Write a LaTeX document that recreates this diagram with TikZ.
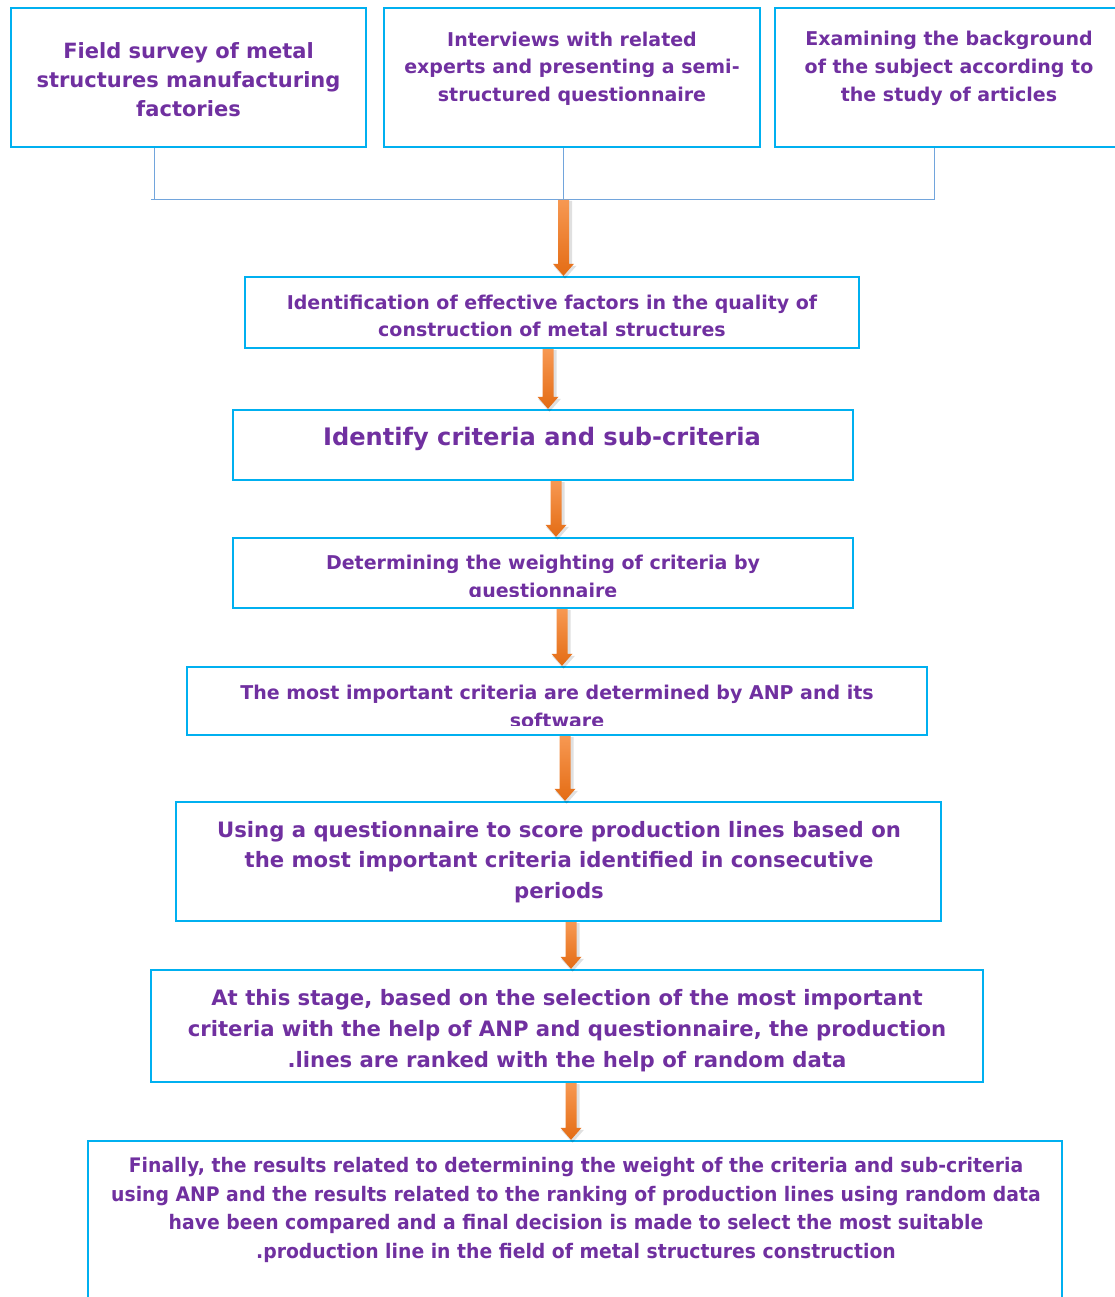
\documentclass[tikz,border=0pt]{standalone}
\usepackage{fontspec}
\setmainfont{DejaVu Sans}
\newfontfamily\condfont[FakeStretch=0.94]{DejaVu Sans}
\usetikzlibrary{calc}
\definecolor{txtpurple}{HTML}{7030A0}
\definecolor{boxblue}{HTML}{00B0F0}
\definecolor{linkblue}{HTML}{72A5DC}
\definecolor{arrtop}{HTML}{F79852}
\definecolor{arrbot}{HTML}{E46C14}
\tikzset{
  flowbox/.style={draw=boxblue, line width=2.4pt, fill=white, rectangle, inner sep=0pt},
  flowtext/.style={text=txtpurple, align=center, inner sep=0pt},
  linkline/.style={draw=linkblue, line width=1pt},
}
\newcommand\oarrow[2]{%
  \fill[black, opacity=0.12] let \p1=(#1), \p2=(#2) in
   ({\x1-5pt},{\y1-1pt}) -- ({\x1+8.5pt},{\y1-1pt}) -- ({\x1+8.5pt},{\y2+10pt}) -- ({\x1+13pt},{\y2+10pt}) -- ({\x1+1.5pt},{\y2-3pt}) -- ({\x1-10pt},{\y2+10pt}) -- ({\x1-5pt},{\y2+10pt}) -- cycle;
  \shade[top color=arrtop, bottom color=arrbot] let \p1=(#1), \p2=(#2) in
   ({\x1-5.5pt},{\y1}) -- ({\x1+5.5pt},{\y1}) -- ({\x1+5.5pt},{\y2+12pt}) -- ({\x1+10.5pt},{\y2+12pt}) -- ({\x1},{\y2}) -- ({\x1-10.5pt},{\y2+12pt}) -- ({\x1-5.5pt},{\y2+12pt}) -- cycle;
}
\begin{document}
\begin{tikzpicture}[x=1pt,y=-1pt]
\useasboundingbox (0,0) rectangle (1114,1297);
\fill[white] (0,0) rectangle (1114,1297);

% boxes
\node[flowbox, minimum width=355pt, minimum height=139pt] (b1) at (188.5,77.5) {};
\node[flowbox, minimum width=376pt, minimum height=139pt] (b2) at (572,77.5) {};
\node[flowbox, minimum width=350pt, minimum height=139pt] (b3) at (950,77.5) {};
\node[flowbox, minimum width=614pt, minimum height=71pt] (b4) at (552,312.5) {};
\node[flowbox, minimum width=620pt, minimum height=70pt] (b5) at (543,445) {};
\node[flowbox, minimum width=620pt, minimum height=70pt] (b6) at (543,573) {};
\node[flowbox, minimum width=740pt, minimum height=68pt] (b7) at (557,701) {};
\node[flowbox, minimum width=765pt, minimum height=119pt] (b8) at (558.5,861.5) {};
\node[flowbox, minimum width=832pt, minimum height=112pt] (b9) at (567,1026) {};
\node[flowbox, minimum width=974pt, minimum height=179pt] (b10) at (575,1230.5) {};

% texts
\node[flowtext, font=\fontsize{21}{29}\selectfont\bfseries] (t1) at (188.5,80)
  {Field survey of metal\\structures manufacturing\\factories};
\node[flowtext, font=\fontsize{19}{27.7}\selectfont\bfseries] (t2) at (572,68.5)
  {Interviews with related\\experts and presenting a semi-\\structured questionnaire};
\node[flowtext, font=\fontsize{19}{27.7}\selectfont\bfseries] (t3) at (949,68.5)
  {Examining the background\\of the subject according to\\the study of articles};
\node[flowtext, font=\fontsize{19}{27}\selectfont\bfseries] (t4) at (552,315.5)
  {Identification of effective factors in the quality of\\construction of metal structures};
\node[flowtext, font=\fontsize{24.1}{30}\selectfont\bfseries] (t5) at (542,439)
  {Identify criteria and sub-criteria};
\begin{scope}
  \clip (233,538) rectangle (853,596.5);
  \node[flowtext, font=\fontsize{19}{28}\selectfont\bfseries] (t6) at (543,578)
    {Determining the weighting of criteria by\\questionnaire};
\end{scope}
\begin{scope}
  \clip (187,667) rectangle (927,725);
  \node[flowtext, font=\fontsize{19}{28}\selectfont\bfseries] (t7) at (557,706)
    {The most important criteria are determined by ANP and its\\software};
\end{scope}
\node[flowtext, font=\fontsize{21.2}{30.7}\selectfont\bfseries] (t8) at (559,862)
  {Using a questionnaire to score production lines based on\\the most important criteria identified in consecutive\\periods};
\node[flowtext, font=\fontsize{21.2}{31}\selectfont\bfseries] (t9) at (567,1031)
  {At this stage, based on the selection of the most important\\criteria with the help of ANP and questionnaire, the production\\.lines are ranked with the help of random data};
\node[flowtext, font=\condfont\fontsize{20}{28.5}\selectfont\bfseries] (t10) at (576,1210)
  {Finally, the results related to determining the weight of the criteria and sub-criteria\\using ANP and the results related to the ranking of production lines using random data\\have been compared and a final decision is made to select the most suitable\\.production line in the field of metal structures construction};

% connector lines
\coordinate (j1) at (154,200);
\coordinate (jm) at (563.5,200);
\coordinate (j3) at (934,200);
\coordinate (jl) at (151,200);
\draw[linkline] (b1.south -| j1) -- (j1);
\draw[linkline] (jl) -- (j3) -- (b3.south -| j3);
\draw[linkline] (b2.south -| jm) -- (jm);

% orange arrows
\coordinate (ax2) at (548,0);
\coordinate (ax3) at (556,0);
\coordinate (ax4) at (562,0);
\coordinate (ax5) at (565,0);
\coordinate (ax6) at (571,0);
\oarrow{jm}{b4.north -| jm}
\oarrow{b4.south -| ax2}{b5.north -| ax2}
\oarrow{b5.south -| ax3}{b6.north -| ax3}
\oarrow{b6.south -| ax4}{b7.north -| ax4}
\oarrow{b7.south -| ax5}{b8.north -| ax5}
\oarrow{b8.south -| ax6}{b9.north -| ax6}
\oarrow{b9.south -| ax6}{b10.north -| ax6}
\end{tikzpicture}
\end{document}
